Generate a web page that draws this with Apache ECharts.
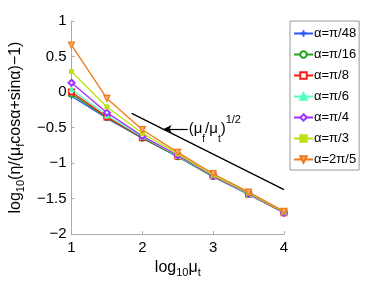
<!DOCTYPE html>
<html><head><meta charset="utf-8">
<script src="https://cdn.jsdelivr.net/npm/echarts@6/dist/echarts.min.js"></script>
<style>html,body{margin:0;padding:0;background:#fff}#c{width:388px;height:283px}</style>
</head><body><div id="c"></div>
<script>
const xVals = [1, 1.5, 2, 2.5, 3, 3.5, 4];
const names = ['α=π/48','α=π/16','α=π/8','α=π/6','α=π/4','α=π/3','α=2π/5'];
const s_pi48 = [-0.06,-0.37,-0.65,-0.91,-1.19,-1.44,-1.70];
const s_pi16 = [-0.03,-0.36,-0.65,-0.91,-1.19,-1.44,-1.70];
const s_pi8  = [0.00,-0.35,-0.64,-0.90,-1.18,-1.44,-1.70];
const s_pi6  = [0.04,-0.33,-0.63,-0.90,-1.18,-1.44,-1.70];
const s_pi4  = [0.13,-0.29,-0.62,-0.89,-1.18,-1.43,-1.70];
const s_pi3  = [0.29,-0.21,-0.58,-0.87,-1.17,-1.42,-1.69];
const s_2pi5 = [0.66,-0.09,-0.53,-0.85,-1.15,-1.41,-1.68];
const refLineX = [1.85, 4];
const refLineY = [-0.30, -1.375];
const arrowFrom = [2.64, -0.52];
const arrowTo = [2.30, -0.52];

const colors = ['#3355ff','#22a022','#ff1a1a','#55ffbb','#a030ff','#bde010','#f07818'];
const symbols = [
  'path://M0,5L10,5M5,0L5,10',
  'emptyCircle','emptyRect','triangle','emptyDiamond','rect',
  'path://M0,0L10,0L5,9Z'
];
const sizes = [6,5,5,5,6,4,6];
const allData = [s_pi48,s_pi16,s_pi8,s_pi6,s_pi4,s_pi3,s_2pi5];

const fmt = v => (v < 0 ? '\u2212' : '') + String(Math.abs(v));
const FF = 'Liberation Sans';

const series = allData.map((d,i) => ({
  name: names[i], type: 'line',
  data: d.map((y,j) => [xVals[j], y]),
  symbol: symbols[i], symbolSize: sizes[i],
  showSymbol: true,
  lineStyle: {color: colors[i], width: 1.3},
  itemStyle: {color: i===6 ? '#f7b070' : colors[i], borderColor: colors[i], borderWidth: (i===0||i===6)?1.2:1},
  z: 2 + i
}));
series.push({
  name: 'ref', type: 'line',
  data: refLineX.map((x,j) => [x, refLineY[j]]),
  symbol: 'none', lineStyle: {color: '#000', width: 1.3},
  markLine: {
    silent: true, symbol: ['none','arrow'], symbolSize: [6,8],
    lineStyle: {color: '#000', width: 1.2, type: 'solid'},
    label: {show: false},
    data: [[{coord: arrowFrom}, {coord: arrowTo}]]
  },
  markPoint: {
    symbol: 'circle', symbolSize: 0,
    data: [{coord: arrowFrom}],
    label: {
      show: true, position: 'right', distance: 1,
      formatter: '{n|(μ}{s|f}{n|/μ}{s|t}{n|)}{p|1/2}',
      rich: {
        n: {fontSize: 15, color: '#000', fontFamily: FF, lineHeight: 30},
        s: {fontSize: 10, color: '#000', fontFamily: FF, verticalAlign: 'bottom', lineHeight: 20},
        p: {fontSize: 11, color: '#000', fontFamily: FF, verticalAlign: 'top', lineHeight: 12}
      }
    }
  }
});

const chart = echarts.init(document.getElementById('c'), null, {renderer: 'canvas'});
chart.setOption({
  animation: false,
  backgroundColor: '#fff',
  grid: {left: 68, top: 21, width: 216, height: 216, containLabel: false},
  legend: {
    data: names, orient: 'vertical', left: 290, top: 21,
    padding: [6,3,4,3],
    itemWidth: 19, itemHeight: 8, itemGap: 8,
    borderColor: '#999', borderWidth: 1, backgroundColor: '#fff',
    textStyle: {fontSize: 13, color: '#000', fontFamily: FF, padding: [0,0,0,-4]}
  },
  xAxis: {
    type: 'value', min: 1, max: 4, interval: 1,
    axisLine: {show: true, onZero: false, lineStyle: {color: '#aaa'}},
    axisTick: {show: true, inside: true, length: 3, lineStyle: {color: '#aaa'}},
    splitLine: {show: false},
    axisLabel: {fontSize: 15, color: '#000', fontFamily: FF, margin: 6, formatter: fmt},
    name: '{n|log}{s|10}{n|μ}{s|t}', nameLocation: 'middle', nameGap: 20,
    nameTextStyle: {rich: {
      n: {fontSize: 16, color: '#000', fontFamily: FF, lineHeight: 20},
      s: {fontSize: 11, color: '#000', fontFamily: FF, lineHeight: 11, verticalAlign: 'bottom'}
    }}
  },
  yAxis: {
    type: 'value', min: -2, max: 1, interval: 0.5,
    axisLine: {show: true, onZero: false, lineStyle: {color: '#aaa'}},
    axisTick: {show: true, inside: true, length: 3, lineStyle: {color: '#aaa'}},
    splitLine: {show: false},
    axisLabel: {fontSize: 15, color: '#000', fontFamily: FF, margin: 5, formatter: fmt},
    name: '{n|log}{s|10}{n|(η/(μ}{s|f}{n|cosα+sinα)\u22121)}', nameLocation: 'middle', nameGap: 45, nameRotate: 90,
    nameTextStyle: {rich: {
      n: {fontSize: 16, color: '#000', fontFamily: FF, lineHeight: 20},
      s: {fontSize: 11, color: '#000', fontFamily: FF, lineHeight: 11, verticalAlign: 'bottom'}
    }}
  },
  series: series
});
</script></body></html>
